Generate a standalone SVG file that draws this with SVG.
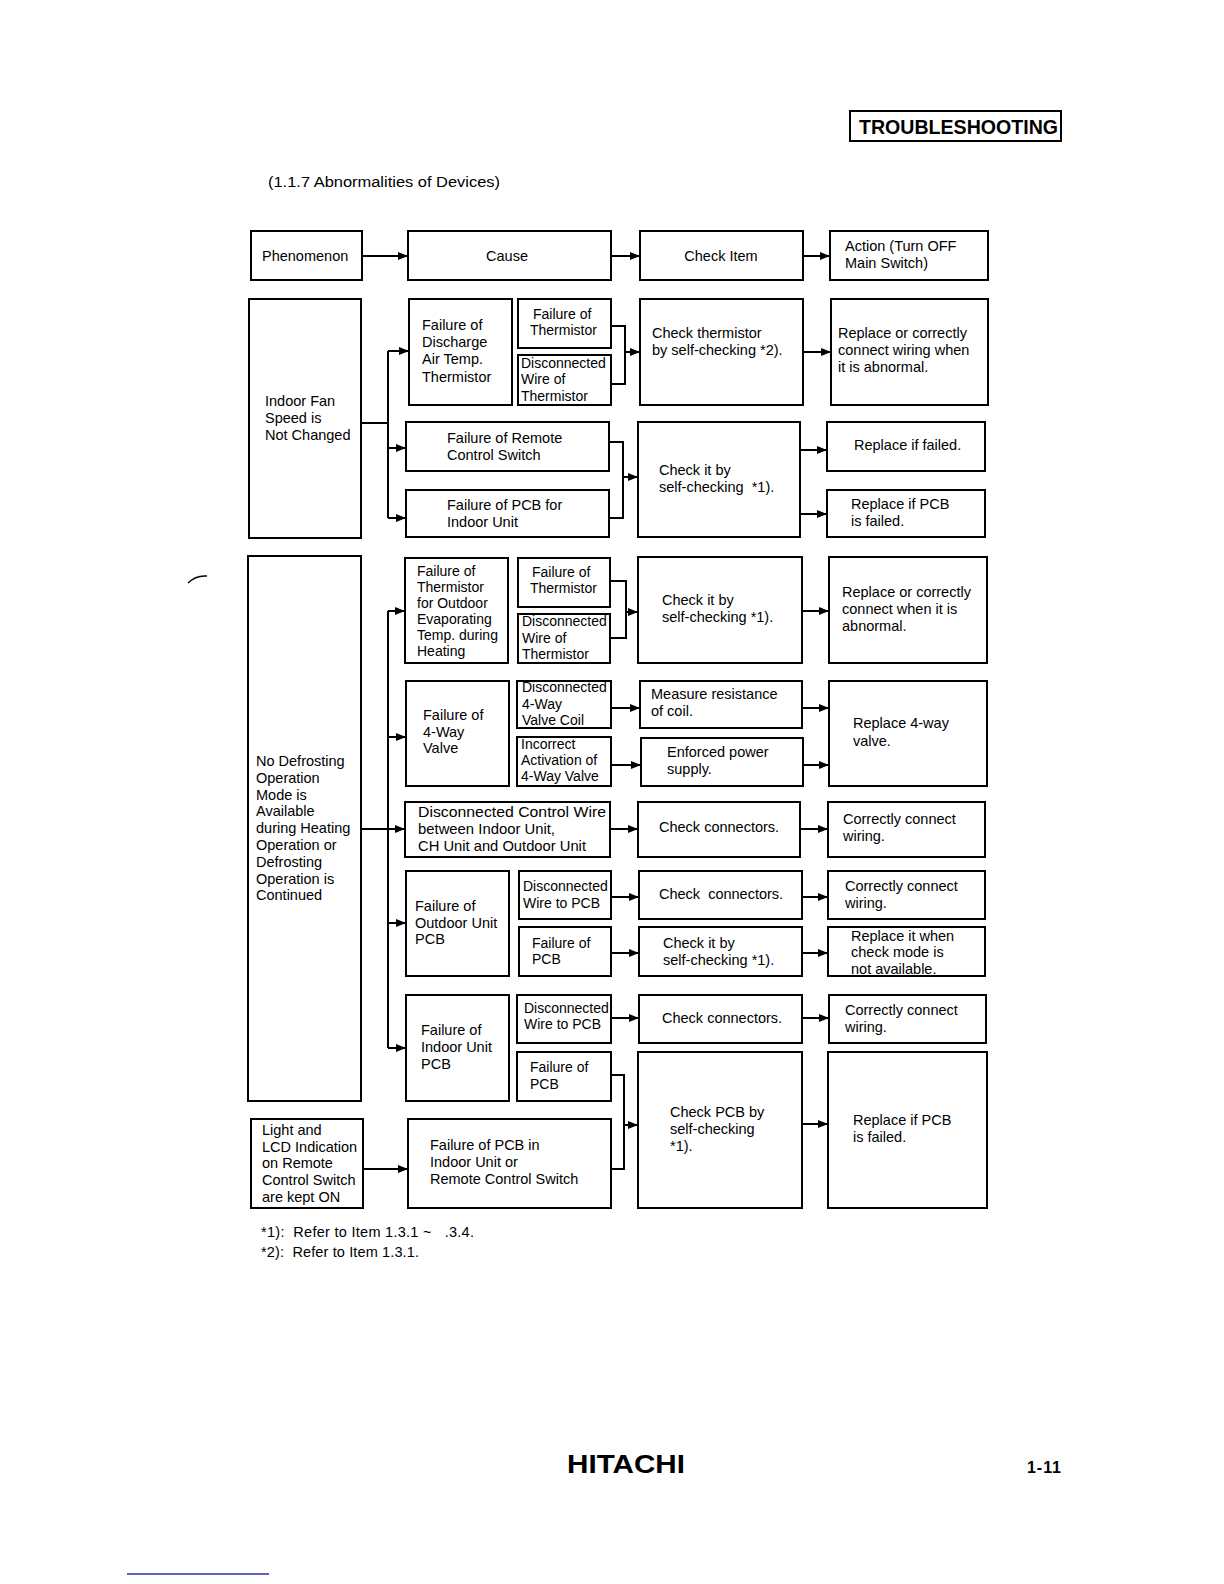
<svg xmlns="http://www.w3.org/2000/svg" width="1224" height="1584" viewBox="0 0 1224 1584">
<style>
.b{fill:#fff;stroke:#000;stroke-width:2}
.t{font-family:"Liberation Sans",Arial,sans-serif;font-size:14.5px;fill:#000}
.s{font-family:"Liberation Sans",Arial,sans-serif;font-size:14px;fill:#000}
.m{text-anchor:middle}
.c{fill:none;stroke:#000;stroke-width:2}
.a{fill:none;stroke:#000;stroke-width:2;marker-end:url(#ah)}
</style>
<defs>
<marker id="ah" markerUnits="userSpaceOnUse" markerWidth="10" markerHeight="8" refX="10" refY="4" orient="auto">
<path d="M0,0 L10,4 L0,8 Z" fill="#000"/>
</marker>
</defs>
<rect width="1224" height="1584" fill="#fff"/>

<g id="header">
<rect x="850" y="111" width="211" height="30" fill="none" stroke="#000" stroke-width="2"/>
<text x="859" y="134" font-family="Liberation Sans,Arial,sans-serif" font-weight="bold" font-size="20" textLength="199" lengthAdjust="spacingAndGlyphs">TROUBLESHOOTING</text>
<text x="268" y="187" class="t" style="font-size:15.5px" textLength="232" lengthAdjust="spacingAndGlyphs">(1.1.7  Abnormalities of Devices)</text>
</g>

<g id="hdr-phenomenon"><rect class="b" x="251" y="231" width="111" height="49"/><text class="t" x="262" y="261">Phenomenon</text></g>
<g id="hdr-cause"><rect class="b" x="408" y="231" width="203" height="49"/><text class="t m" x="507" y="261">Cause</text></g>
<g id="hdr-check"><rect class="b" x="640" y="231" width="163" height="49"/><text class="t m" x="721" y="261">Check Item</text></g>
<g id="hdr-action"><rect class="b" x="830" y="231" width="158" height="49"/><text class="t" x="845" y="251">Action (Turn OFF</text><text class="t" x="845" y="268">Main Switch)</text></g>

<!-- Group 1 -->
<g id="ph-fan"><rect class="b" x="249" y="299" width="112" height="239"/>
<text class="t" x="265" y="406">Indoor Fan</text><text class="t" x="265" y="423">Speed is</text><text class="t" x="265" y="440">Not Changed</text></g>
<g id="c-discharge"><rect class="b" x="409" y="299" width="103" height="106"/>
<text class="t" x="422" y="330">Failure of</text><text class="t" x="422" y="347">Discharge</text><text class="t" x="422" y="364">Air Temp.</text><text class="t" x="422" y="382">Thermistor</text></g>
<g id="c-discharge-a"><rect class="b" x="518" y="299" width="93" height="49"/>
<text class="s" x="533" y="319">Failure of</text><text class="s" x="530" y="335">Thermistor</text></g>
<g id="c-discharge-b"><rect class="b" x="518" y="355" width="93" height="50"/>
<text class="s" x="521" y="368">Disconnected</text><text class="s" x="521" y="384">Wire of</text><text class="s" x="521" y="401">Thermistor</text></g>
<g id="k-thermistor"><rect class="b" x="640" y="299" width="163" height="106"/>
<text class="t" x="652" y="338">Check thermistor</text><text class="t" x="652" y="355">by self-checking *2).</text></g>
<g id="a-thermistor"><rect class="b" x="831" y="299" width="157" height="106"/>
<text class="t" x="838" y="338">Replace or correctly</text><text class="t" x="838" y="355">connect wiring when</text><text class="t" x="838" y="372">it is abnormal.</text></g>
<g id="c-remote"><rect class="b" x="406" y="422" width="203" height="49"/>
<text class="t" x="447" y="443">Failure of Remote</text><text class="t" x="447" y="460">Control Switch</text></g>
<g id="c-pcb-indoor"><rect class="b" x="406" y="490" width="203" height="47"/>
<text class="t" x="447" y="510">Failure of PCB for</text><text class="t" x="447" y="527">Indoor Unit</text></g>
<g id="k-self1"><rect class="b" x="638" y="422" width="162" height="115"/>
<text class="t" x="659" y="475">Check it by</text><text class="t" x="659" y="492" style="white-space:pre">self-checking  *1).</text></g>
<g id="a-replace-failed"><rect class="b" x="827" y="422" width="158" height="49"/>
<text class="t" x="854" y="450">Replace if failed.</text></g>
<g id="a-replace-pcb1"><rect class="b" x="827" y="490" width="158" height="47"/>
<text class="t" x="851" y="509">Replace if PCB</text><text class="t" x="851" y="526">is failed.</text></g>

<!-- Group 2 -->
<g id="ph-defrost"><rect class="b" x="248" y="556" width="113" height="545"/>
<text class="t" x="256" y="766">No Defrosting</text><text class="t" x="256" y="783">Operation</text><text class="t" x="256" y="800">Mode is</text><text class="t" x="256" y="816">Available</text><text class="t" x="256" y="833">during Heating</text><text class="t" x="256" y="850">Operation or</text><text class="t" x="256" y="867">Defrosting</text><text class="t" x="256" y="884">Operation is</text><text class="t" x="256" y="900">Continued</text></g>
<g id="c-evap"><rect class="b" x="405" y="558" width="103" height="105"/>
<text class="s" x="417" y="576">Failure of</text><text class="s" x="417" y="592">Thermistor</text><text class="s" x="417" y="608">for Outdoor</text><text class="s" x="417" y="624">Evaporating</text><text class="s" x="417" y="640">Temp. during</text><text class="s" x="417" y="656">Heating</text></g>
<g id="c-evap-a"><rect class="b" x="518" y="558" width="92" height="49"/>
<text class="s" x="532" y="577">Failure of</text><text class="s" x="530" y="593">Thermistor</text></g>
<g id="c-evap-b"><rect class="b" x="518" y="614" width="92" height="49"/>
<text class="s" x="522" y="626">Disconnected</text><text class="s" x="522" y="643">Wire of</text><text class="s" x="522" y="659">Thermistor</text></g>
<g id="k-self2"><rect class="b" x="638" y="557" width="164" height="106"/>
<text class="t" x="662" y="605">Check it by</text><text class="t" x="662" y="622">self-checking *1).</text></g>
<g id="a-evap"><rect class="b" x="829" y="557" width="158" height="106"/>
<text class="t" x="842" y="597">Replace or correctly</text><text class="t" x="842" y="614">connect when it is</text><text class="t" x="842" y="631">abnormal.</text></g>

<g id="c-4way"><rect class="b" x="406" y="681" width="103" height="105"/>
<text class="t" x="423" y="720">Failure of</text><text class="t" x="423" y="737">4-Way</text><text class="t" x="423" y="753">Valve</text></g>
<g id="c-4way-a"><rect class="b" x="517" y="681" width="94" height="47"/>
<text class="s" x="522" y="692">Disconnected</text><text class="s" x="522" y="709">4-Way</text><text class="s" x="522" y="725">Valve Coil</text></g>
<g id="c-4way-b"><rect class="b" x="517" y="737" width="94" height="49"/>
<text class="s" x="521" y="749">Incorrect</text><text class="s" x="521" y="765">Activation of</text><text class="s" x="521" y="781">4-Way Valve</text></g>
<g id="k-coil"><rect class="b" x="640" y="681" width="162" height="47"/>
<text class="t" x="651" y="699">Measure resistance</text><text class="t" x="651" y="716">of coil.</text></g>
<g id="k-power"><rect class="b" x="641" y="738" width="162" height="48"/>
<text class="t" x="667" y="757">Enforced power</text><text class="t" x="667" y="774">supply.</text></g>
<g id="a-4way"><rect class="b" x="829" y="681" width="158" height="105"/>
<text class="t" x="853" y="728">Replace 4-way</text><text class="t" x="853" y="746">valve.</text></g>

<g id="c-ctrlwire"><rect class="b" x="405" y="802" width="205" height="55"/>
<text class="t" x="418" y="817" textLength="188" lengthAdjust="spacingAndGlyphs">Disconnected Control Wire</text><text class="t" x="418" y="834" textLength="137" lengthAdjust="spacingAndGlyphs">between Indoor Unit,</text><text class="t" x="418" y="851" textLength="168" lengthAdjust="spacingAndGlyphs">CH Unit and Outdoor Unit</text></g>
<g id="k-conn1"><rect class="b" x="638" y="802" width="162" height="55"/>
<text class="t" x="659" y="832">Check connectors.</text></g>
<g id="a-conn1"><rect class="b" x="828" y="802" width="157" height="55"/>
<text class="t" x="843" y="824">Correctly connect</text><text class="t" x="843" y="841">wiring.</text></g>

<g id="c-outpcb"><rect class="b" x="406" y="871" width="103" height="105"/>
<text class="t" x="415" y="911">Failure of</text><text class="t" x="415" y="928">Outdoor Unit</text><text class="t" x="415" y="944">PCB</text></g>
<g id="c-outpcb-a"><rect class="b" x="519" y="871" width="92" height="48"/>
<text class="s" x="523" y="891">Disconnected</text><text class="s" x="523" y="908">Wire to PCB</text></g>
<g id="c-outpcb-b"><rect class="b" x="519" y="927" width="92" height="49"/>
<text class="s" x="532" y="948">Failure of</text><text class="s" x="532" y="964">PCB</text></g>
<g id="k-conn2"><rect class="b" x="639" y="871" width="163" height="48"/>
<text class="t" x="659" y="899" style="white-space:pre">Check  connectors.</text></g>
<g id="k-self3"><rect class="b" x="639" y="927" width="163" height="49"/>
<text class="t" x="663" y="948">Check it by</text><text class="t" x="663" y="965">self-checking *1).</text></g>
<g id="a-conn2"><rect class="b" x="828" y="871" width="157" height="48"/>
<text class="t" x="845" y="891">Correctly connect</text><text class="t" x="845" y="908">wiring.</text></g>
<g id="a-checkmode"><rect class="b" x="828" y="927" width="157" height="49"/>
<text class="t" x="851" y="941">Replace it when</text><text class="t" x="851" y="957">check mode is</text><text class="t" x="851" y="974">not available.</text></g>

<g id="c-inpcb"><rect class="b" x="406" y="995" width="103" height="106"/>
<text class="t" x="421" y="1035">Failure of</text><text class="t" x="421" y="1052">Indoor Unit</text><text class="t" x="421" y="1069">PCB</text></g>
<g id="c-inpcb-a"><rect class="b" x="517" y="995" width="94" height="48"/>
<text class="s" x="524" y="1013">Disconnected</text><text class="s" x="524" y="1029">Wire to PCB</text></g>
<g id="c-inpcb-b"><rect class="b" x="517" y="1052" width="94" height="49"/>
<text class="s" x="530" y="1072">Failure of</text><text class="s" x="530" y="1089">PCB</text></g>
<g id="k-conn3"><rect class="b" x="639" y="995" width="163" height="48"/>
<text class="t" x="662" y="1023">Check connectors.</text></g>
<g id="a-conn3"><rect class="b" x="829" y="995" width="157" height="48"/>
<text class="t" x="845" y="1015">Correctly connect</text><text class="t" x="845" y="1032">wiring.</text></g>
<g id="k-pcbself"><rect class="b" x="638" y="1052" width="164" height="156"/>
<text class="t" x="670" y="1117">Check PCB by</text><text class="t" x="670" y="1134">self-checking</text><text class="t" x="670" y="1151">*1).</text></g>
<g id="a-pcb2"><rect class="b" x="828" y="1052" width="159" height="156"/>
<text class="t" x="853" y="1125">Replace if PCB</text><text class="t" x="853" y="1142">is failed.</text></g>

<!-- Group 3 -->
<g id="ph-lcd"><rect class="b" x="251" y="1119" width="112" height="89"/>
<text class="t" x="262" y="1135">Light and</text><text class="t" x="262" y="1152">LCD Indication</text><text class="t" x="262" y="1168">on Remote</text><text class="t" x="262" y="1185">Control Switch</text><text class="t" x="262" y="1202">are kept ON</text></g>
<g id="c-pcbremote"><rect class="b" x="408" y="1119" width="203" height="89"/>
<text class="t" x="430" y="1150">Failure of PCB in</text><text class="t" x="430" y="1167">Indoor Unit or</text><text class="t" x="430" y="1184">Remote Control Switch</text></g>

<g id="connectors">
<path class="a" d="M362,256 H408"/>
<path class="a" d="M611,256 H640"/>
<path class="a" d="M803,256 H830"/>

<path class="c" d="M361,423 H388 M388,351 V518"/>
<path class="a" d="M388,351 H409"/>
<path class="a" d="M388,448 H406"/>
<path class="a" d="M388,518 H406"/>
<path class="c" d="M611,326 H625 V384 H611"/>
<path class="a" d="M625,352 H640"/>
<path class="a" d="M803,352 H831"/>
<path class="c" d="M609,442 H623 V518 H609"/>
<path class="a" d="M623,477 H638"/>
<path class="a" d="M800,450 H827"/>
<path class="a" d="M800,514 H827"/>

<path class="c" d="M361,829 H388 M388,611 V1048"/>
<path class="a" d="M388,611 H405"/>
<path class="a" d="M388,737 H406"/>
<path class="a" d="M388,829 H405"/>
<path class="a" d="M388,923 H406"/>
<path class="a" d="M388,1048 H406"/>
<path class="c" d="M610,581 H626 V638 H610"/>
<path class="a" d="M626,612 H638"/>
<path class="a" d="M802,611 H829"/>
<path class="a" d="M611,708 H640"/>
<path class="a" d="M611,765 H641"/>
<path class="a" d="M802,708 H829"/>
<path class="a" d="M803,765 H829"/>
<path class="a" d="M610,829 H638"/>
<path class="a" d="M800,829 H828"/>
<path class="a" d="M611,897 H639"/>
<path class="a" d="M802,897 H828"/>
<path class="a" d="M611,953 H639"/>
<path class="a" d="M802,953 H828"/>
<path class="a" d="M611,1018 H639"/>
<path class="a" d="M802,1018 H829"/>
<path class="c" d="M611,1075 H624 V1169 H611"/>
<path class="a" d="M624,1125 H638"/>
<path class="a" d="M802,1124 H828"/>
<path class="a" d="M363,1169 H408"/>
</g>

<g id="footer">
<text class="t" x="261" y="1237" style="white-space:pre" textLength="213">*1):  Refer to Item 1.3.1 ~   .3.4.</text>
<text class="t" x="261" y="1257" style="white-space:pre" textLength="158">*2):  Refer to Item 1.3.1.</text>
<text x="567" y="1473" font-family="Liberation Sans,Arial,sans-serif" font-weight="bold" font-size="26" textLength="118" lengthAdjust="spacingAndGlyphs">HITACHI</text>
<text x="1027" y="1473" font-family="Liberation Sans,Arial,sans-serif" font-weight="bold" font-size="16" textLength="34">1-11</text>
<path d="M188,583 Q196,575 207,576" fill="none" stroke="#000" stroke-width="1.5"/>
<line x1="127" y1="1574" x2="269" y2="1574" stroke="#2a2ab8" stroke-width="1.5"/>
</g>
</svg>
